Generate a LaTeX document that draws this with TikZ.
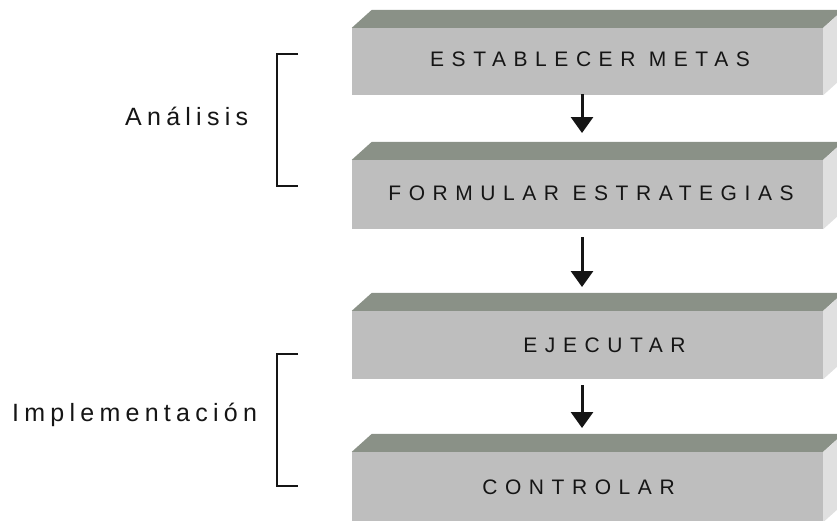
\documentclass[tikz,border=0pt]{standalone}
\usepackage{fontspec}
\setmainfont{Liberation Sans}
\newfontfamily\spfont{Liberation Sans}[LetterSpace=36]
\newfontfamily\lbfont{Liberation Sans}[LetterSpace=21]
\usetikzlibrary{arrows.meta}
\definecolor{topc}{HTML}{8A9187}
\definecolor{frontc}{HTML}{BEBEBE}
\definecolor{sidec}{HTML}{E0E0E0}
\definecolor{inkc}{HTML}{151515}
\begin{document}
\begin{tikzpicture}[x=1pt,y=-1pt,
  boxface/.style={fill=frontc, draw=none, minimum width=471pt, inner sep=0pt,
    font=\spfont\fontsize{21pt}{25pt}\selectfont, text=inkc},
  topface/.style={fill=topc, draw=none},
  sideface/.style={fill=sidec, draw=none},
  flowarrow/.style={draw=inkc, line width=3pt, -{Triangle[length=16pt,width=22pt]}},
  bracketline/.style={draw=inkc, line width=2pt},
  sidelabel/.style={font=\lbfont\fontsize{25pt}{30pt}\selectfont, text=inkc, inner sep=0pt, anchor=west}]
\useasboundingbox (0,0) rectangle (837,520);
\clip (0,0) rectangle (837,520);

% boxes: name, y, height, text, raise, horizontal shift of text
\newcommand{\solidbox}[6]{%
  \node[boxface, minimum height=#3pt] (#1) at (587.5,#2) {\hspace*{#6pt}\raisebox{#5pt}{#4}};
  \fill[topface] (#1.north west) -- ++(20,-18) -- ([xshift=20pt,yshift=18pt]#1.north east) -- (#1.north east) -- cycle;
  \fill[sideface] (#1.north east) -- ++(20,-18) -- ([xshift=20pt,yshift=18pt]#1.south east) -- (#1.south east) -- cycle;
}
\solidbox{b1}{61.5}{67}{ESTABLECER METAS}{4}{5}
\solidbox{b2}{194.5}{69}{FORMULAR ESTRATEGIAS}{2.5}{7}
\solidbox{b3}{345}{68}{EJECUTAR}{-2}{34}
\solidbox{b4}{487}{70}{CONTROLAR}{-1}{-18}

% arrows
\coordinate (t1) at (582,133);
\coordinate (t2) at (582,287);
\coordinate (t3) at (582,428);
\coordinate (s1) at (582,94);
\coordinate (s2) at (582,237);
\coordinate (s3) at (582,385);
\draw[flowarrow] (s1) -- (t1);
\draw[flowarrow] (s2) -- (t2);
\draw[flowarrow] (s3) -- (t3);

% brackets
\coordinate (a1) at (298,54);
\coordinate (a2) at (298,186);
\draw[bracketline] (a1) -| (277,186) -- (a2);
\coordinate (i1) at (298,354);
\coordinate (i2) at (298,486);
\draw[bracketline] (i1) -| (277,486) -- (i2);

% labels
\node[sidelabel] (la) at (125,116) {Análisis};
\node[sidelabel] (li) at (12,415) {Implementación};
\end{tikzpicture}
\end{document}
